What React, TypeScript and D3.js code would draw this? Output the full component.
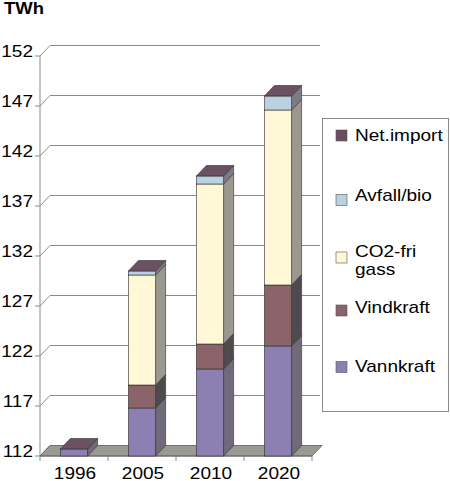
import React from 'react';
import * as d3 from 'd3';

const years = ['1996', '2005', '2010', '2020'];
const vannkraft = [112.7, 116.8, 120.7, 123.0];
const vindkraft = [0, 2.3, 2.5, 6.1];
const co2friGass = [0, 11.0, 16.0, 17.5];
const avfallBio = [0, 0.4, 0.8, 1.4];
const netImport = [0, 0, 0, 0];
const yTicks = [112, 117, 122, 127, 132, 137, 142, 147, 152];

const seriesKeys = ['Vannkraft', 'Vindkraft', 'CO2-fri gass', 'Avfall/bio', 'Net.import'];
const seriesValues = [vannkraft, vindkraft, co2friGass, avfallBio, netImport];
const frontColors = ['#8c80b2', '#8a6468', '#fff7d6', '#b9d1e0', '#6b5063'];
const sideColors = ['#706a7a', '#4f4a4d', '#9a988f', '#7c7c86', '#4d3f48'];
const legendItems = [
  { key: 'Net.import', lines: ['Net.import'], color: '#6b4d62', base: 140.5, sw: 130 },
  { key: 'Avfall/bio', lines: ['Avfall/bio'], color: '#b9d1e0', base: 200.5, sw: 194.5 },
  { key: 'CO2-fri gass', lines: ['CO2-fri', 'gass'], color: '#fff7d6', base: 257, sw: 252 },
  { key: 'Vindkraft', lines: ['Vindkraft'], color: '#8a6468', base: 313, sw: 305 },
  { key: 'Vannkraft', lines: ['Vannkraft'], color: '#8c80b2', base: 372, sw: 361.5 },
];

const DX = 10;
const DY = -10.5;
const FONT = "'Liberation Sans', Arial, sans-serif";
const SX = 1.12;

function T({ x, y, anchor, size = 17, weight, children }: any) {
  return (
    <text
      transform={`translate(${x},${y}) scale(${SX},1)`}
      textAnchor={anchor || 'start'}
      fontFamily={FONT}
      fontSize={size}
      fontWeight={weight || 'normal'}
      fill="#000"
    >
      {children}
    </text>
  );
}

export default function App() {
  const y = d3.scaleLinear().domain([112, 152]).range([456, 56]);
  const x = d3.scaleBand<string>().domain(years).range([40, 312]).paddingInner(0.6).paddingOuter(0.3);
  const xOuter = d3.scaleBand<string>().domain(years).range([40, 312]);

  const rows = years.map((yr, i) => {
    const r: any = { year: yr };
    seriesKeys.forEach((k, j) => (r[k] = seriesValues[j][i]));
    return r;
  });
  const stacked = d3.stack<any>().keys(seriesKeys)(rows);

  const x0Axis = 40;
  const x1Axis = 312;
  const yBase = y(112);

  const poly = (pts: number[][]) => pts.map((p) => p.join(',')).join(' ');

  return (
    <svg width={450} height={481} style={{ position: 'absolute', left: 0, top: 0, background: '#fff' }}>
      {/* Title */}
      <T x={4} y={14} size={16.5} weight="bold">TWh</T>

      {/* Gridlines on back wall and side diagonals */}
      {yTicks.map((t) => (
        <g key={t}>
          {t !== 112 && (
            <line x1={x0Axis + DX} x2={x1Axis + 8} y1={y(t) + DY} y2={y(t) + DY} stroke="#8a8a8a" strokeWidth={1} />
          )}
          <line x1={x0Axis} x2={x0Axis + DX} y1={y(t)} y2={y(t) + DY} stroke="#8a8a8a" strokeWidth={1} />
          <line x1={x0Axis - 5} x2={x0Axis} y1={y(t)} y2={y(t)} stroke="#8a8a8a" strokeWidth={1} />
          <T x={33} y={y(t) + 1} anchor="end">{t}</T>
        </g>
      ))}

      {/* Front y axis */}
      <line x1={x0Axis} x2={x0Axis} y1={y(152)} y2={yBase} stroke="#8a8a8a" strokeWidth={1} />

      {/* Floor */}
      <polygon
        points={poly([
          [x0Axis, yBase],
          [x1Axis, yBase],
          [x1Axis + DX, yBase + DY],
          [x0Axis + DX, yBase + DY],
        ])}
        fill="#9a9a93"
        stroke="#5a5a5a"
        strokeWidth={0.8}
      />

      {/* X axis ticks */}
      {[...years.map((yr) => xOuter(yr) as number), x1Axis].map((xv, i) => (
        <line key={i} x1={xv} x2={xv} y1={yBase} y2={yBase + 5} stroke="#8a8a8a" strokeWidth={1} />
      ))}
      <line x1={x0Axis} x2={x1Axis} y1={yBase} y2={yBase} stroke="#6a6a6a" strokeWidth={1} />

      {/* Bars */}
      {years.map((yr, i) => {
        const bx0 = x(yr) as number;
        const bx1 = bx0 + x.bandwidth();
        const segs = stacked.map((s, j) => {
          const v0 = Math.max(112, s[i][0]);
          const v1 = Math.max(112, s[i][1]);
          return { j, top: y(v1), bot: y(v0), h: y(v0) - y(v1) };
        });
        const topVal = stacked[stacked.length - 1][i][1];
        const yt = y(topVal);
        return (
          <g key={yr}>
            {segs
              .filter((s) => s.h > 0.01)
              .map((s) => (
                <g key={s.j}>
                  <polygon
                    points={poly([
                      [bx1, s.bot],
                      [bx1 + DX, s.bot + DY],
                      [bx1 + DX, s.top + DY],
                      [bx1, s.top],
                    ])}
                    fill={sideColors[s.j]}
                    stroke="#2e2e2e"
                    strokeWidth={0.6}
                  />
                  <rect x={bx0} y={s.top} width={bx1 - bx0} height={s.h} fill={frontColors[s.j]} stroke="#2e2e2e" strokeWidth={0.6} />
                </g>
              ))}
            <polygon
              points={poly([
                [bx0, yt],
                [bx1, yt],
                [bx1 + DX, yt + DY],
                [bx0 + DX, yt + DY],
              ])}
              fill="#6a5262"
              stroke="#2e2e2e"
              strokeWidth={0.6}
            />
            <T x={(bx0 + bx1) / 2 + 1} y={478.5} anchor="middle">{yr}</T>
          </g>
        );
      })}

      {/* Legend */}
      <rect x={322.5} y={118.5} width={126} height={293} fill="#fff" stroke="#8a8a8a" strokeWidth={1} />
      {legendItems.map((it) => (
        <g key={it.key}>
          <rect x={336} y={it.sw} width={11} height={11} fill={it.color} stroke="#555" strokeWidth={0.6} />
          {it.lines.map((ln, k) => (
            <T key={k} x={355} y={it.base + k * 18}>{ln}</T>
          ))}
        </g>
      ))}
    </svg>
  );
}
